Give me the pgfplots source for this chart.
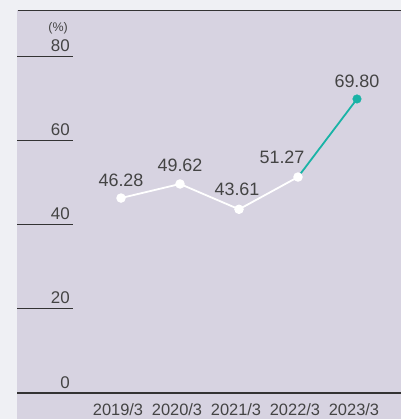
\documentclass[border=0pt]{standalone}
\usepackage{pgfplots}
\pgfplotsset{compat=1.18}
\usepackage{fontspec}
\setmainfont{Liberation Sans}
\definecolor{outerbg}{HTML}{EFF0F4}
\definecolor{panel}{HTML}{D7D3E1}
\definecolor{ink}{HTML}{444444}
\definecolor{rule}{HTML}{333333}
\definecolor{teal}{HTML}{19B3A6}
\tikzset{
  scalelab/.style={anchor=base east, inner sep=0pt, text=ink, font=\fontsize{17}{19}\selectfont},
  vallab/.style={anchor=base, inner sep=0pt, text=ink, font=\fontsize{18}{20}\selectfont},
}
\begin{document}
\begin{tikzpicture}[x=1bp,y=1bp]
  % page and panel backgrounds
  \fill[outerbg] (0,0) rectangle (401,419);
  \fill[panel] (17,0) rectangle (401,409);
  \begin{axis}[
    at={(17bp,26bp)}, anchor=south west,
    scale only axis, width=384bp, height=383bp,
    xmin=-1.763, xmax=4.746,
    ymin=0, ymax=90.92,
    axis line style={draw=none},
    major tick length=0pt,
    ytick=\empty,
    xtick={0,1,2,3,4},
    xticklabels={2019/3,2020/3,2021/3,2022/3,2023/3},
    xticklabel style={anchor=base, xshift=-3bp, yshift=-22bp, font=\fontsize{16.5}{18}\selectfont, text=ink},
    clip=false,
  ]
    % frame lines
    \draw[rule, line width=1.4bp] (rel axis cs:0,0) -- (rel axis cs:1,0);
    \draw[rule, line width=1bp] ([xshift=1bp]rel axis cs:0,1) -- (rel axis cs:1,1);
    % short rules on the value scale
    \draw[rule, line width=0.9bp] (axis cs:-1.763,20) -- ([xshift=56bp]axis cs:-1.763,20);
    \draw[rule, line width=0.9bp] (axis cs:-1.763,40) -- ([xshift=56bp]axis cs:-1.763,40);
    \draw[rule, line width=0.9bp] (axis cs:-1.763,60) -- ([xshift=56bp]axis cs:-1.763,60);
    \draw[rule, line width=0.9bp] (axis cs:-1.763,80) -- ([xshift=56bp]axis cs:-1.763,80);
    % scale labels
    \node[scalelab] at ([xshift=53bp, yshift=5bp]axis cs:-1.763,0) {0};
    \node[scalelab] at ([xshift=53bp, yshift=5bp]axis cs:-1.763,20) {20};
    \node[scalelab] at ([xshift=53bp, yshift=5bp]axis cs:-1.763,40) {40};
    \node[scalelab] at ([xshift=53bp, yshift=5bp]axis cs:-1.763,60) {60};
    \node[scalelab] at ([xshift=53bp, yshift=5bp]axis cs:-1.763,80) {80};
    \node[anchor=base east, inner sep=0pt, text=ink, font=\fontsize{12.5}{14}\selectfont]
      at ([xshift=51bp, yshift=25bp]axis cs:-1.763,80) {(\%)};
    % ratio series
    \addplot[white, line width=1.8bp, mark=*, mark size=3.8bp,
             mark options={fill=white, draw=white}]
      coordinates {(0,46.28) (1,49.62) (2,43.61) (3,51.27)};
    \addplot[teal, line width=1.8bp, mark=none]
      coordinates {(3,51.27) (4,69.80)};
    \addplot[white, only marks, mark=*, mark size=3.8bp] coordinates {(3,51.27)};
    \addplot[teal, only marks, mark=*, mark size=4.3bp] coordinates {(4,69.80)};
    % value labels
    \node[vallab] at ([yshift=12bp]axis cs:0,46.28) {46.28};
    \node[vallab] at ([yshift=12bp]axis cs:1,49.62) {49.62};
    \node[vallab] at ([xshift=-2bp, yshift=14bp]axis cs:2,43.61) {43.61};
    \node[vallab] at ([xshift=-16bp, yshift=14bp]axis cs:3,51.27) {51.27};
    \node[vallab] at ([yshift=11bp]axis cs:4,69.80) {69.80};
  \end{axis}
\end{tikzpicture}
\end{document}
